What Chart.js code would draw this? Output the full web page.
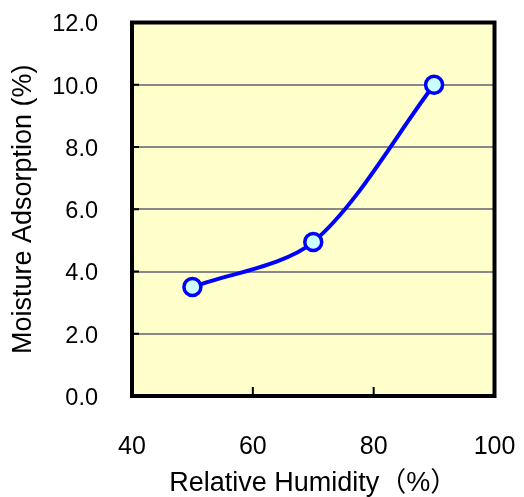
<!DOCTYPE html>
<html><head><meta charset="utf-8">
<script src="https://cdn.jsdelivr.net/npm/chart.js@4.4.0/dist/chart.umd.min.js"></script>
<style>html,body{margin:0;padding:0;background:#fff}</style>
</head><body><canvas id="c" width="524" height="497"></canvas>
<script>
const humidity = [50, 70, 90];
const adsorption = [3.5, 4.95, 10.0];
const xRange = [40, 100];
const yRange = [0, 12];
const xTitle = 'Relative Humidity（%）';
const yTitle = 'Moisture Adsorption (%)';

const FONT = '"Liberation Sans", Arial, "Noto Sans CJK JP", sans-serif';

const framePlugin = {
  id: 'frame',
  beforeDraw(chart) {
    const {ctx, chartArea: a} = chart;
    ctx.save();
    ctx.fillStyle = '#FFFFCC';
    ctx.fillRect(a.left, a.top, a.right - a.left, a.bottom - a.top);
    ctx.restore();
  },
  afterDatasetsDraw(chart) {
    const {ctx, chartArea: a, scales} = chart;
    ctx.save();
    ctx.strokeStyle = '#000';
    ctx.lineWidth = 2;
    ctx.beginPath();
    scales.y.ticks.forEach(t => {
      const py = scales.y.getPixelForValue(t.value);
      ctx.moveTo(a.left, py); ctx.lineTo(a.left + 7, py);
    });
    scales.x.ticks.forEach(t => {
      const px = scales.x.getPixelForValue(t.value);
      ctx.moveTo(px, a.bottom); ctx.lineTo(px, a.bottom - 9);
    });
    ctx.stroke();
    ctx.lineWidth = 4;
    ctx.strokeRect(a.left, a.top, a.right - a.left, a.bottom - a.top);
    ctx.restore();
  }
};

new Chart(document.getElementById('c'), {
  type: 'line',
  data: {
    datasets: [{
      data: humidity.map((h, i) => ({x: h, y: adsorption[i]})),
      borderColor: '#0000FF',
      borderWidth: 4,
      tension: 0.3,
      pointRadius: 8.5,
      pointBorderWidth: 3.5,
      pointBackgroundColor: '#CCFFFF',
      pointBorderColor: '#0000FF',
      fill: false
    }]
  },
  options: {
    responsive: false,
    animation: false,
    layout: {padding: {top: 22.5, right: 29.5, left: 0, bottom: 0}},
    plugins: {legend: {display: false}, tooltip: {enabled: false}},
    scales: {
      x: {
        type: 'linear', min: xRange[0], max: xRange[1],
        afterFit(s) { s.height = 101; s.paddingLeft = 0; s.paddingRight = 0; },
        ticks: {stepSize: 20, padding: 36, color: '#000', font: {family: FONT, size: 25}},
        grid: {display: false, drawTicks: false},
        border: {display: false},
        title: {display: true, text: xTitle, color: '#000', font: {family: FONT, size: 27, lineHeight: 1}, padding: {top: 0, bottom: 0}}
      },
      y: {
        type: 'linear', min: yRange[0], max: yRange[1],
        afterFit(s) { s.width = 132; s.paddingTop = 0; s.paddingBottom = 0; },
        ticks: {stepSize: 2, padding: 34, labelOffset: 2.5, color: '#000', font: {family: FONT, size: 23.5}, callback: v => v.toFixed(1)},
        grid: {color: '#888888', lineWidth: 2, drawTicks: false},
        border: {display: false},
        title: {display: true, text: yTitle, color: '#000', font: {family: FONT, size: 27, lineHeight: 1}, padding: {top: 10, bottom: 0}}
      }
    }
  },
  plugins: [framePlugin]
});
</script></body></html>
